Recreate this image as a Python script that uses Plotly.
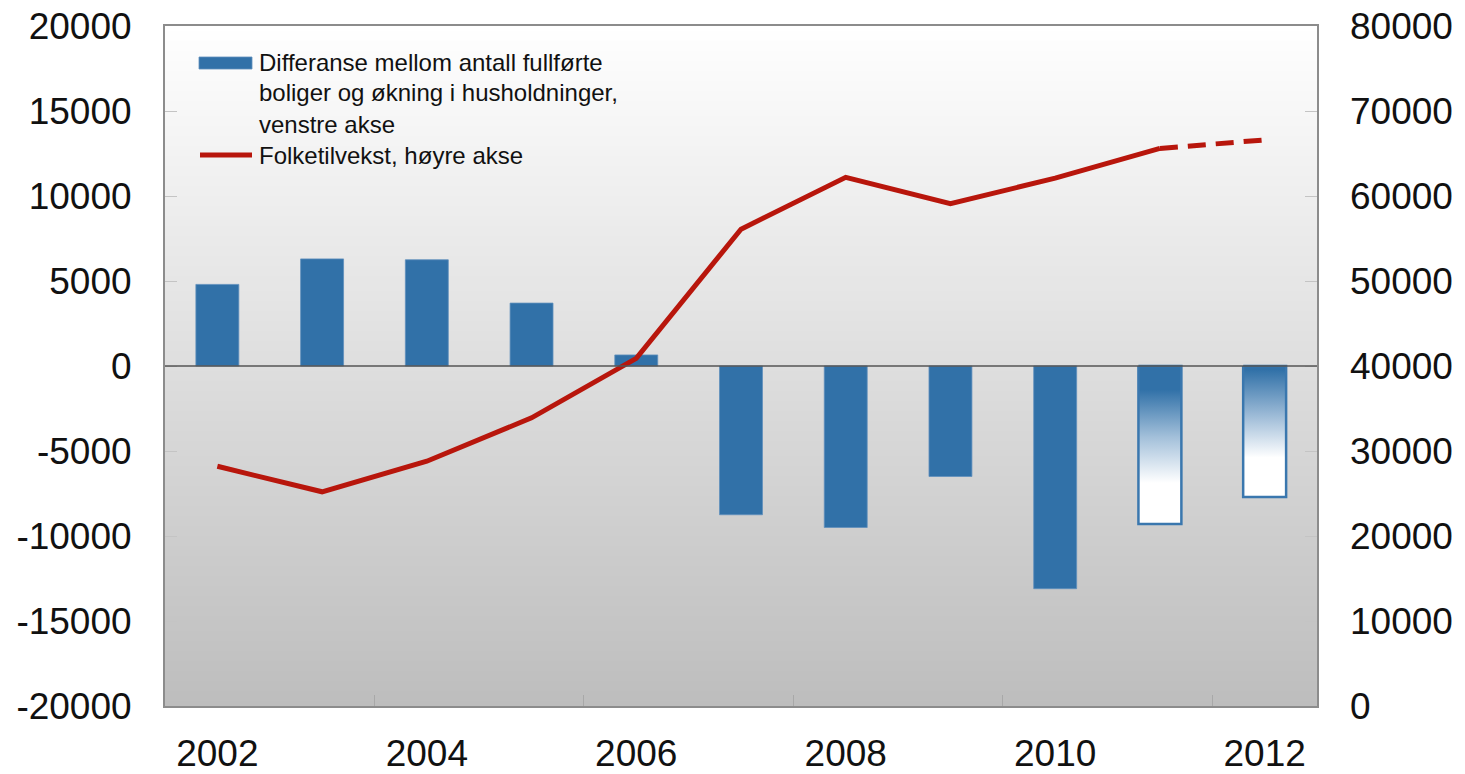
import plotly.graph_objects as go

# Data
years = [2002, 2003, 2004, 2005, 2006, 2007, 2008, 2009, 2010, 2011, 2012]
diff_dwellings = [4800, 6300, 6250, 3700, 650, -8750, -9500, -6500, -13100, -9300, -7700]
population_growth = [28200, 25200, 28800, 33900, 40900, 56100, 62200, 59100, 62100, 65600, 66600]
projected_years = [2011, 2012]
left_ticks = [-20000, -15000, -10000, -5000, 0, 5000, 10000, 15000, 20000]
right_ticks = [0, 10000, 20000, 30000, 40000, 50000, 60000, 70000, 80000]
x_label_years = [2002, 2004, 2006, 2008, 2010, 2012]
legend_bar = ["Differanse mellom antall fullførte",
              "boliger og økning i husholdninger,",
              "venstre akse"]
legend_line = "Folketilvekst, høyre akse"

BLUE = "#3171a8"
RED = "#b8160c"
FONT = "Liberation Sans, Arial, sans-serif"
BAR_W = 0.41

# plot area in pixels
W, H = 1465, 774
L, R, T, B = 165, 1317, 26, 706

def px_x(p):
    return (p - L) / (R - L)

def px_y(p):
    return (B - p) / (B - T)

fig = go.Figure()

# historical bars
hist_years = [y for y in years if y not in projected_years]
hist_vals = [v for y, v in zip(years, diff_dwellings) if y not in projected_years]
fig.add_trace(go.Bar(
    x=hist_years, y=hist_vals, width=BAR_W,
    marker=dict(color=BLUE, line=dict(color="#5f8fbd", width=0.8)),
    showlegend=False, hoverinfo="x+y",
))

# projected bars: gradient filled outlines
scales = {
    2011: [[0, "#ffffff"], [0.26, "#ffffff"], [0.55, "#a3c0da"], [0.85, BLUE], [1, BLUE]],
    2012: [[0, "#ffffff"], [0.30, "#ffffff"], [0.62, "#9dbbd7"], [0.97, BLUE], [1, BLUE]],
}
for y in projected_years:
    v = diff_dwellings[years.index(y)]
    x0, x1 = y - BAR_W / 2, y + BAR_W / 2
    fig.add_trace(go.Scatter(
        x=[x0, x1, x1, x0, x0], y=[0, 0, v, v, 0],
        mode="lines", fill="toself",
        fillgradient=dict(type="vertical", colorscale=scales[y]),
        line=dict(color="#3a77ae", width=2.5),
        showlegend=False, hoverinfo="skip",
    ))

# population growth line (solid history, dashed projection)
n_hist = years.index(projected_years[0]) + 1
fig.add_trace(go.Scatter(
    x=years[:n_hist], y=population_growth[:n_hist], yaxis="y2",
    mode="lines", line=dict(color=RED, width=5),
    showlegend=False,
))
fig.add_trace(go.Scatter(
    x=years[n_hist - 1:], y=population_growth[n_hist - 1:], yaxis="y2",
    mode="lines", line=dict(color=RED, width=5, dash="18px,10px"),
    showlegend=False,
))

# carrier for the bottom tick marks between year pairs
fig.add_trace(go.Scatter(x=[years[0]], y=[None], xaxis="x2", showlegend=False, hoverinfo="skip"))

# background gradient (white at top to grey at bottom)
shapes = []
steps = 136
for i in range(steps):
    f = (i + 0.5) / steps
    c = int(round(255 - (255 - 189) * f))
    shapes.append(dict(
        type="rect", xref="paper", yref="paper",
        x0=0, x1=1, y0=max(0, 1 - (i + 1.6) / steps), y1=1 - i / steps,
        fillcolor=f"rgb({c},{c},{c})", line=dict(width=0), layer="below",
    ))

# zero line across the plot
shapes.append(dict(type="line", xref="paper", yref="y", x0=0, x1=1, y0=0, y1=0,
                   line=dict(color="#555555", width=1.5), layer="above"))

# legend swatches
shapes.append(dict(type="rect", xref="paper", yref="paper",
                   x0=px_x(199), x1=px_x(252), y0=px_y(69), y1=px_y(57),
                   fillcolor=BLUE, line=dict(color="#5f8fbd", width=0.8)))
shapes.append(dict(type="line", xref="paper", yref="paper",
                   x0=px_x(200), x1=px_x(252), y0=px_y(155), y1=px_y(155),
                   line=dict(color=RED, width=5)))

annotations = []
for i, txt in enumerate(legend_bar):
    annotations.append(dict(
        text=txt, xref="paper", yref="paper", x=px_x(257), y=px_y(62 + 31 * i),
        xanchor="left", yanchor="middle", showarrow=False,
        font=dict(family=FONT, size=24, color="#111111"),
    ))
annotations.append(dict(
    text=legend_line, xref="paper", yref="paper", x=px_x(257), y=px_y(155),
    xanchor="left", yanchor="middle", showarrow=False,
    font=dict(family=FONT, size=24, color="#111111"),
))

xr = [years[0] - 0.5, years[-1] + 0.5]
tick_font = dict(family=FONT, size=37, color="#111111")

fig.update_layout(
    width=W, height=H, autosize=False,
    margin=dict(l=L, r=W - R, t=T, b=H - B, pad=0),
    paper_bgcolor="white", plot_bgcolor="white",
    shapes=shapes, annotations=annotations,
    xaxis=dict(
        range=xr, tickvals=x_label_years, ticktext=[str(y) for y in x_label_years],
        ticks="", showgrid=False, zeroline=False, automargin=False,
        showline=True, mirror=True, linecolor="#8c8c8c", linewidth=2,
        tickfont=tick_font, ticklabelstandoff=14,
    ),
    xaxis2=dict(
        range=xr, overlaying="x", side="bottom", automargin=False,
        tickvals=[y + 1.5 for y in x_label_years[:-1]],
        ticks="inside", ticklen=11, tickcolor="#a8a8a8", tickwidth=1,
        showticklabels=False, showgrid=False, zeroline=False, showline=False,
    ),
    yaxis=dict(
        range=[left_ticks[0], left_ticks[-1]], tickvals=left_ticks,
        ticktext=[str(v) for v in left_ticks], automargin=False,
        ticks="inside", ticklen=12, tickcolor="#c4c4c4", tickwidth=1,
        showgrid=False, zeroline=False,
        showline=True, mirror=True, linecolor="#8c8c8c", linewidth=2,
        tickfont=tick_font, ticklabelstandoff=24,
    ),
    yaxis2=dict(
        range=[right_ticks[0], right_ticks[-1]], tickvals=right_ticks,
        ticktext=[str(v) for v in right_ticks], automargin=False,
        overlaying="y", side="right",
        ticks="inside", ticklen=12, tickcolor="#c4c4c4", tickwidth=1,
        showgrid=False, zeroline=False, showline=False,
        tickfont=tick_font, ticklabelstandoff=32,
    ),
)

fig.write_html("out.html")
